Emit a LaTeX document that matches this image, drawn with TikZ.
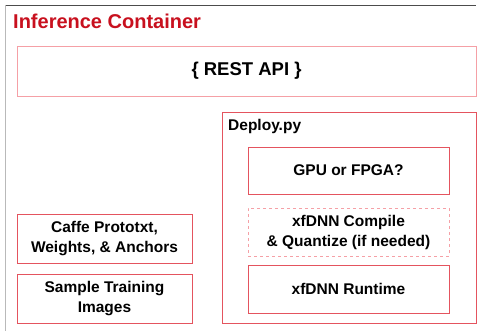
\documentclass[tikz,border=0pt]{standalone}
\usepackage{fontspec}
\setmainfont{Liberation Sans}
\usepackage{tikz}
\usetikzlibrary{positioning}

\definecolor{boxred}{RGB}{228,84,94}
\definecolor{boxpink}{RGB}{245,160,166}
\definecolor{titlered}{RGB}{200,16,30}

\begin{document}
\begin{tikzpicture}[x=1pt,y=-1pt,
    font=\bfseries\fontsize{15.5}{20}\selectfont,
    box/.style={draw=boxred, line width=0.8pt, inner sep=0pt, align=center},
    softbox/.style={box, draw=boxpink}]
  \useasboundingbox (0,0) rectangle (477,331);
  % container frame
  \coordinate (tl) at (5,5);
  \coordinate (tr) at (476,5);
  \coordinate (bl) at (5,331);
  \draw[gray!60!black, line width=0.9pt] (tl) -- (tr);
  \draw[gray!55, line width=0.9pt] (tl) -- (bl);
  \node[anchor=west, text=titlered, inner sep=0pt,
    font=\bfseries\fontsize{20}{24}\selectfont] (title) at (13,21) {Inference Container};

  \node[softbox, minimum width=459, minimum height=50,
    font=\bfseries\fontsize{18.5}{22}\selectfont] (rest) at (246.5,71) {\{ REST API \}};

  % deploy script
  \node[box, minimum width=254, minimum height=211] (deploy) at (349,217.5) {};
  \node[anchor=west, inner sep=0pt] (deploylbl) at (228,126) {Deploy.py};
  \node[box, minimum width=201, minimum height=47] (gpu) at (348.5,170.5) {GPU or FPGA?};
  \node[box, dashed, draw=boxpink, minimum width=201, minimum height=48] (compile) at (348.5,232)
    {xfDNN Compile\\\& Quantize (if needed)};
  \node[box, minimum width=201, minimum height=48] (runtime) at (348.5,289) {xfDNN Runtime};

  % inputs
  \node[box, minimum width=175, minimum height=49] (caffe) at (104.5,238.5)
    {Caffe Prototxt,\\Weights, \& Anchors};
  \node[box, minimum width=175, minimum height=49] (images) at (104.5,298.5)
    {Sample Training\\Images};
\end{tikzpicture}
\end{document}
